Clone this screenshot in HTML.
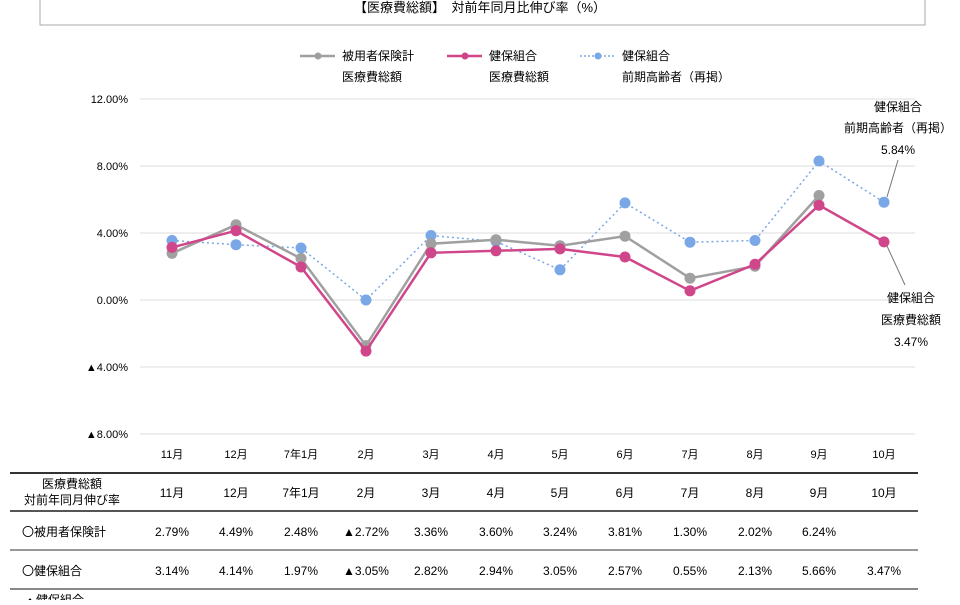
<!DOCTYPE html><html><head><meta charset="utf-8"><style>
body{margin:0;width:960px;height:600px;overflow:hidden;background:#fff;font-family:"Liberation Sans","Noto Sans CJK JP",sans-serif;color:#222}
svg text{font-family:"Liberation Sans","Noto Sans CJK JP",sans-serif}
</style></head><body>
<svg width="960" height="600" viewBox="0 0 960 600">
<rect x="40" y="-5" width="885" height="30" fill="#fff" stroke="#aaa"/>
<text x="480" y="12" font-size="13" text-anchor="middle">【医療費総額】　対前年同月比伸び率（%）</text>
<g font-size="12">
<line x1="300" y1="56" x2="335" y2="56" stroke="#a0a0a0" stroke-width="2.5"/><circle cx="318" cy="56" r="3.5" fill="#a0a0a0"/>
<text x="342" y="60">被用者保険計</text><text x="342" y="81">医療費総額</text>
<line x1="447" y1="56" x2="482" y2="56" stroke="#d0468a" stroke-width="2.5"/><circle cx="465" cy="56" r="3.5" fill="#d0468a"/>
<text x="489" y="60">健保組合</text><text x="489" y="81">医療費総額</text>
<line x1="580" y1="56" x2="615" y2="56" stroke="#7aa7e6" stroke-width="1.5" stroke-dasharray="2,2"/><circle cx="598" cy="56" r="3.5" fill="#7aa7e6"/>
<text x="622" y="60">健保組合</text><text x="622" y="81">前期高齢者（再掲）</text>
</g>
<g stroke="#dcdcdc" stroke-width="1">
<line x1="140" y1="99" x2="915" y2="99"/><line x1="140" y1="166" x2="915" y2="166"/><line x1="140" y1="233" x2="915" y2="233"/><line x1="140" y1="300" x2="915" y2="300"/><line x1="140" y1="367" x2="915" y2="367"/><line x1="140" y1="434" x2="915" y2="434"/>
</g>
<g font-size="11" text-anchor="end">
<text x="128" y="103">12.00%</text><text x="128" y="170">8.00%</text><text x="128" y="237">4.00%</text><text x="128" y="304">0.00%</text><text x="128" y="371">▲4.00%</text><text x="128" y="438">▲8.00%</text>
</g>
<g font-size="11" text-anchor="middle">
<text x="172" y="458">11月</text><text x="236" y="458">12月</text><text x="301" y="458">7年1月</text><text x="366" y="458">2月</text><text x="431" y="458">3月</text><text x="496" y="458">4月</text><text x="560" y="458">5月</text><text x="625" y="458">6月</text><text x="690" y="458">7月</text><text x="755" y="458">8月</text><text x="819" y="458">9月</text><text x="884" y="458">10月</text>
</g>
<polyline fill="none" stroke="#7aa7e6" stroke-width="1.5" stroke-dasharray="2,3" points="172,240.5 236,244.7 301,248 366,300 431,235.5 496,241.4 560,269.8 625,202.9 690,242.2 755,240.5 819,161 884,202.2"/>
<g fill="#7aa7e6"><circle cx="172" cy="240.5" r="5.5"/><circle cx="236" cy="244.7" r="5.5"/><circle cx="301" cy="248" r="5.5"/><circle cx="366" cy="300" r="5.5"/><circle cx="431" cy="235.5" r="5.5"/><circle cx="496" cy="241.4" r="5.5"/><circle cx="560" cy="269.8" r="5.5"/><circle cx="625" cy="202.9" r="5.5"/><circle cx="690" cy="242.2" r="5.5"/><circle cx="755" cy="240.5" r="5.5"/><circle cx="819" cy="161" r="5.5"/><circle cx="884" cy="202.2" r="5.5"/></g>
<polyline fill="none" stroke="#a0a0a0" stroke-width="2.5" points="172,253.3 236,224.8 301,258.5 366,345.6 431,243.7 496,239.7 560,245.7 625,236.2 690,278.2 755,266.2 819,195.5"/>
<g fill="#a0a0a0"><circle cx="172" cy="253.3" r="5.5"/><circle cx="236" cy="224.8" r="5.5"/><circle cx="301" cy="258.5" r="5.5"/><circle cx="366" cy="345.6" r="5.5"/><circle cx="431" cy="243.7" r="5.5"/><circle cx="496" cy="239.7" r="5.5"/><circle cx="560" cy="245.7" r="5.5"/><circle cx="625" cy="236.2" r="5.5"/><circle cx="690" cy="278.2" r="5.5"/><circle cx="755" cy="266.2" r="5.5"/><circle cx="819" cy="195.5" r="5.5"/></g>
<polyline fill="none" stroke="#d0468a" stroke-width="2.5" points="172,247.4 236,230.7 301,267 366,351.1 431,252.8 496,250.8 560,248.9 625,257 690,290.8 755,264.3 819,205.2 884,241.9"/>
<g fill="#d0468a"><circle cx="172" cy="247.4" r="5.5"/><circle cx="236" cy="230.7" r="5.5"/><circle cx="301" cy="267" r="5.5"/><circle cx="366" cy="351.1" r="5.5"/><circle cx="431" cy="252.8" r="5.5"/><circle cx="496" cy="250.8" r="5.5"/><circle cx="560" cy="248.9" r="5.5"/><circle cx="625" cy="257" r="5.5"/><circle cx="690" cy="290.8" r="5.5"/><circle cx="755" cy="264.3" r="5.5"/><circle cx="819" cy="205.2" r="5.5"/><circle cx="884" cy="241.9" r="5.5"/></g>
<line x1="887" y1="197" x2="898" y2="160" stroke="#777"/>
<line x1="887" y1="246" x2="905" y2="285" stroke="#777"/>
<g font-size="12" text-anchor="middle">
<text x="898" y="111">健保組合</text><text x="898" y="132">前期高齢者（再掲）</text><text x="898" y="154">5.84%</text>
<text x="911" y="302">健保組合</text><text x="911" y="324">医療費総額</text><text x="911" y="346">3.47%</text>
</g>
<line x1="10" y1="473" x2="918" y2="473" stroke="#333" stroke-width="2"/>
<line x1="10" y1="511" x2="918" y2="511" stroke="#555" stroke-width="2"/>
<line x1="10" y1="550" x2="918" y2="550" stroke="#777" stroke-width="1.5"/>
<line x1="10" y1="589" x2="918" y2="589" stroke="#888" stroke-width="2"/>
<g font-size="12" text-anchor="middle">
<text x="72" y="488">医療費総額</text><text x="72" y="504">対前年同月伸び率</text>
<text x="172" y="497">11月</text><text x="236" y="497">12月</text><text x="301" y="497">7年1月</text><text x="366" y="497">2月</text><text x="431" y="497">3月</text><text x="496" y="497">4月</text><text x="560" y="497">5月</text><text x="625" y="497">6月</text><text x="690" y="497">7月</text><text x="755" y="497">8月</text><text x="819" y="497">9月</text><text x="884" y="497">10月</text>
<text x="172" y="536">2.79%</text><text x="236" y="536">4.49%</text><text x="301" y="536">2.48%</text><text x="366" y="536">▲2.72%</text><text x="431" y="536">3.36%</text><text x="496" y="536">3.60%</text><text x="560" y="536">3.24%</text><text x="625" y="536">3.81%</text><text x="690" y="536">1.30%</text><text x="755" y="536">2.02%</text><text x="819" y="536">6.24%</text>
<text x="172" y="575">3.14%</text><text x="236" y="575">4.14%</text><text x="301" y="575">1.97%</text><text x="366" y="575">▲3.05%</text><text x="431" y="575">2.82%</text><text x="496" y="575">2.94%</text><text x="560" y="575">3.05%</text><text x="625" y="575">2.57%</text><text x="690" y="575">0.55%</text><text x="755" y="575">2.13%</text><text x="819" y="575">5.66%</text><text x="884" y="575">3.47%</text>
</g>
<g font-size="12"><text x="22" y="536">〇被用者保険計</text><text x="22" y="575">〇健保組合</text><text x="24" y="604">・健保組合</text></g>
</svg></body></html>
